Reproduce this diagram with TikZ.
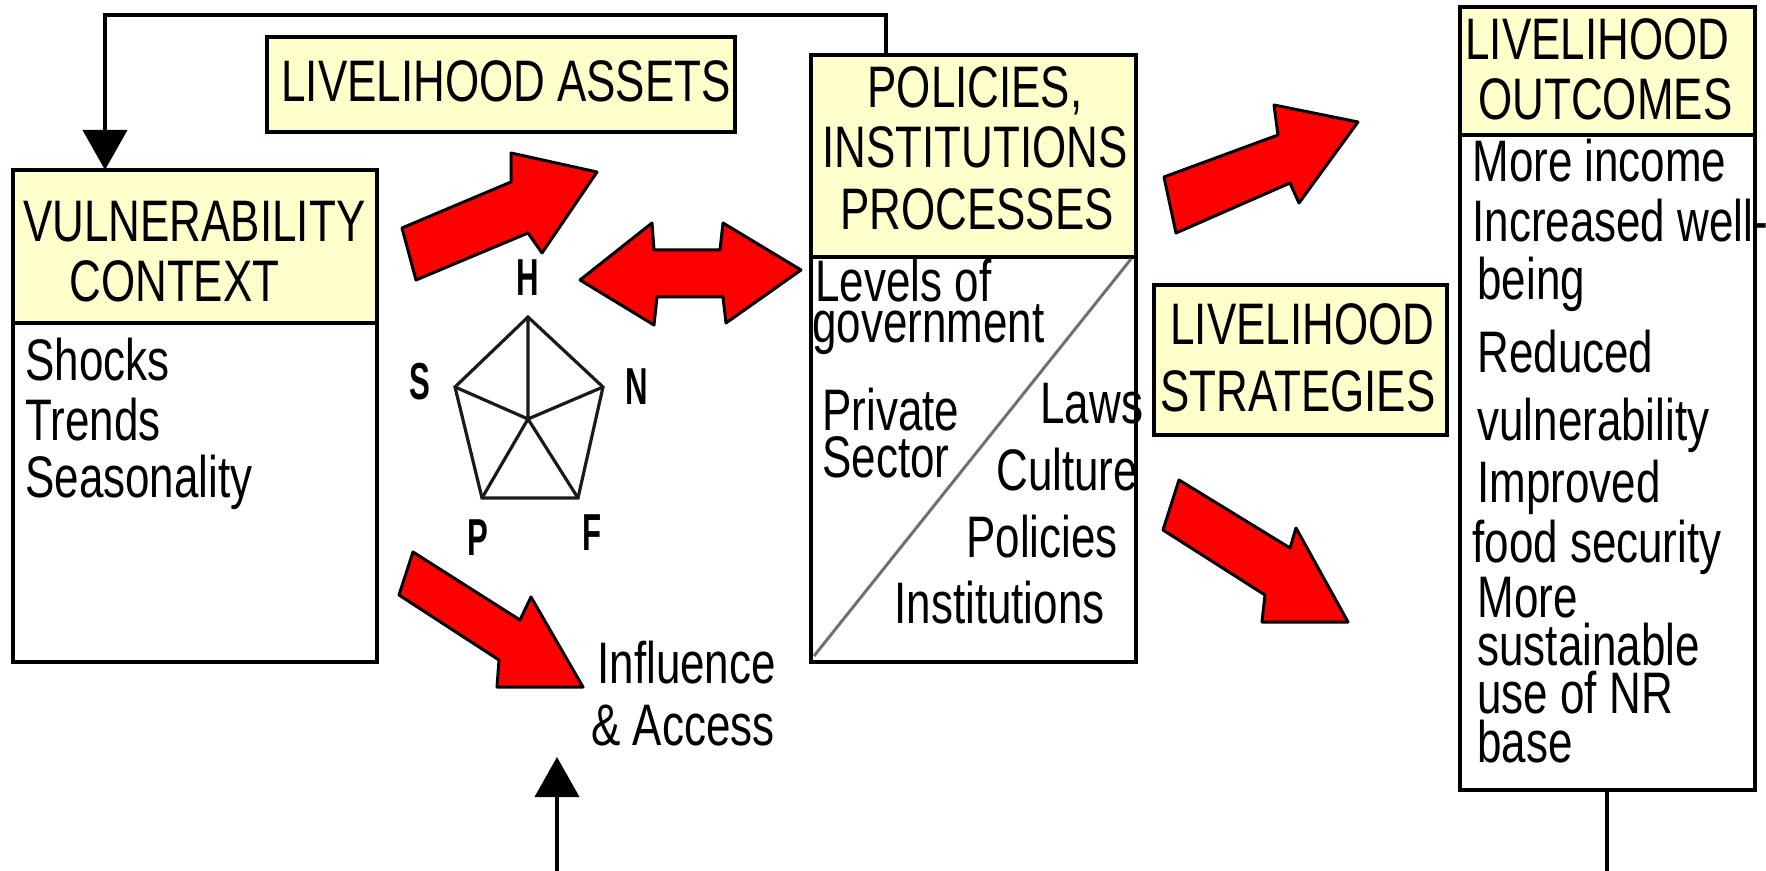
\documentclass[tikz,border=0pt]{standalone}
\usepackage{fontspec}
\setmainfont{Liberation Sans}[FakeStretch=0.75]
\usetikzlibrary{arrows.meta}
\definecolor{boxyellow}{HTML}{FFFFCC}
\definecolor{arrowred}{HTML}{FF0000}
\definecolor{pentgray}{HTML}{1A1A1A}
\definecolor{diaggray}{HTML}{707070}
\newcommand{\txtsize}{\fontsize{29.3pt}{35pt}\selectfont}
\newcommand{\lblsize}{\fontsize{26pt}{30pt}\selectfont\bfseries}
\newcommand{\lblnarrow}[1]{\scalebox{0.8}[1]{#1}}
\begin{document}
\begin{tikzpicture}[x=0.5pt,y=-0.5pt,
 hdr/.style={draw=black, line width=2pt, fill=boxyellow, anchor=north west, inner sep=0pt, outer sep=0pt},
 bodybox/.style={draw=black, line width=2pt, fill=white, anchor=north west, inner sep=0pt, outer sep=0pt},
 txt/.style={anchor=base west, inner sep=0pt, font=\txtsize},
 ctxt/.style={anchor=base, inner sep=0pt, font=\txtsize},
 lbl/.style={anchor=center, inner sep=0pt, font=\lblsize},
 conn/.style={line width=2pt, draw=black},
 fbarrow/.style={-{Triangle[width=22pt,length=20pt]}},
 redarrow/.style={fill=arrowred, draw=black, line width=1.5pt, line join=round},
 pent/.style={draw=pentgray, line width=1.6pt},
]
\useasboundingbox (0,0) rectangle (1766,871);

% boxes
\node[hdr, minimum width=182pt, minimum height=76.5pt] (vulhead) at (13,170) {};
\node[bodybox, minimum width=182pt, minimum height=169.5pt] (vulbody) at (13,323) {};
\node[hdr, minimum width=234pt, minimum height=47.5pt] (assets) at (267,37) {};
\node[hdr, minimum width=162.5pt, minimum height=101pt] (polhead) at (811,55) {};
\node[bodybox, minimum width=162.5pt, minimum height=202.5pt] (polbody) at (811,257) {};
\node[hdr, minimum width=146.5pt, minimum height=75pt] (strat) at (1154,285) {};
\node[hdr, minimum width=147.5pt, minimum height=64pt] (outhead) at (1460,7) {};
\node[bodybox, minimum width=147.5pt, minimum height=327.5pt] (outbody) at (1460,135) {};

% diagonal in policies body
\draw[draw=diaggray, line width=1.5pt] ([shift={(3,-6)}]polbody.south west) -- ([shift={(-5,2)}]polbody.north east);

% feedback connector
\coordinate (fbR) at (886,15);
\coordinate (fbL) at (105,15);
\draw[conn, fbarrow] (polhead.north -| fbR) -- (fbR) -- (fbL) -- (vulhead.north -| fbL);

% bottom connectors
\coordinate (iaTip) at (557,757);
\coordinate (iaBot) at (557,871);
\draw[conn, fbarrow] (iaBot) -- (iaTip);
\coordinate (outBot) at (1607,871);
\draw[conn] (outbody.south -| outBot) -- (outBot);

% texts: vulnerability
\node[txt] (t1) at (23,242) {VULNERABILITY};
\node[txt] (t2) at (69,302) {CONTEXT};
\node[txt] (t3) at (25,381) {Shocks};
\node[txt] (t4) at (25,440) {Trends};
\node[txt] (t5) at (25,497) {Seasonality};

% assets
\node[txt] (t6) at (281,102) {LIVELIHOOD ASSETS};

% policies
\node[ctxt] (t7) at (975,108) {POLICIES,};
\node[ctxt] (t8) at (975,168) {INSTITUTIONS};
\node[ctxt] (t9) at (977,230) {PROCESSES};
\node[txt] (t10) at (815,302) {Levels of};
\node[txt] (t11) at (812,343) {government};
\node[txt] (t12) at (822,430) {Private};
\node[txt] (t13) at (822,477) {Sector};
\node[txt] (t14) at (1040,423) {Laws};
\node[txt] (t15) at (996,490) {Culture};
\node[txt] (t16) at (966,557) {Policies};
\node[txt] (t17) at (894,623) {Institutions};

% strategies
\node[txt] (t18) at (1170,345) {LIVELIHOOD};
\node[txt] (t19) at (1160,412) {STRATEGIES};

% outcomes
\node[txt] (t20) at (1465,60) {LIVELIHOOD};
\node[txt] (t21) at (1478,120) {OUTCOMES};
\node[txt] (o1) at (1472,182) {More income};
\node[txt] (o2) at (1472,242) {Increased well-};
\node[txt] (o3) at (1477,300) {being};
\node[txt] (o4) at (1477,373) {Reduced};
\node[txt] (o5) at (1477,440) {vulnerability};
\node[txt] (o6) at (1477,502) {Improved};
\node[txt] (o7) at (1472,562) {food security};
\node[txt] (o8) at (1477,617) {More};
\node[txt] (o9) at (1477,665) {sustainable};
\node[txt] (o10) at (1477,713) {use of NR};
\node[txt] (o11) at (1477,762) {base};

% influence & access
\node[txt] (t22) at (597,683) {Influence};
\node[txt] (t23) at (591,745) {\&\ Access};

% pentagon
\coordinate (pH) at (528,317);
\coordinate (pS) at (455,387);
\coordinate (pN) at (603,387);
\coordinate (pP) at (482,498);
\coordinate (pF) at (578,498);
\coordinate (pC) at (528,419);
\draw[pent] (pH) -- (pN) -- (pF) -- (pP) -- (pS) -- cycle;
\draw[pent] (pC) -- (pH) (pC) -- (pS) (pC) -- (pN) (pC) -- (pP) (pC) -- (pF);
\node[lbl] (lH) at (528,278) {\lblnarrow{H}};
\node[lbl] (lS) at (420,382) {\lblnarrow{S}};
\node[lbl] (lN) at (637,387) {\lblnarrow{N}};
\node[lbl] (lP) at (478,538) {\lblnarrow{P}};
\node[lbl] (lF) at (592,533) {\lblnarrow{F}};

% red arrows
\draw[redarrow] (416,280) -- (402,228) -- (511,182) -- (511,153) -- (597,172) -- (542,253) -- (528,233) -- cycle;
\draw[redarrow] (580,280) -- (652,223) -- (654,250) -- (720,250) -- (723,223) -- (801,270) -- (726,323) -- (723,297) -- (657,297) -- (654,325) -- cycle;
\draw[redarrow] (413,552) -- (520,620) -- (531,597) -- (583,687) -- (497,687) -- (499,660) -- (399,595) -- cycle;
\draw[redarrow] (1176,233) -- (1164,177) -- (1278,135) -- (1274,105) -- (1358,122) -- (1299,203) -- (1290,183) -- cycle;
\draw[redarrow] (1179,480) -- (1290,548) -- (1296,528) -- (1348,622) -- (1262,622) -- (1265,595) -- (1163,530) -- cycle;
\end{tikzpicture}
\end{document}
